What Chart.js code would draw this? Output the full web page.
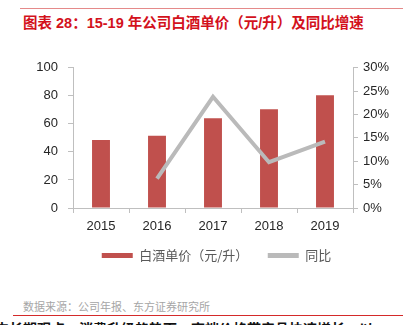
<!DOCTYPE html>
<html>
<head>
<meta charset="utf-8">
<script src="https://cdn.jsdelivr.net/npm/chart.js@4"></script>
<style>
  html, body { margin: 0; padding: 0; background: #fff; }
  body { width: 403px; height: 325px; position: relative; overflow: hidden;
         font-family: "Liberation Sans", "Noto Sans CJK SC", sans-serif; }
  .topline { position: absolute; left: 20px; top: 8px; width: 383px; height: 0; border-top: 1.5px solid #e58a8a; }
  .title { position: absolute; left: 23px; top: 14px; font-size: 14.5px; line-height: 18px; font-weight: bold; color: #d3121c; white-space: nowrap; }
  .source { position: absolute; left: 23px; top: 298px; font-size: 11px; color: #a6a6a6; white-space: nowrap;
            font-family: "Noto Sans CJK SC", sans-serif; }
  .botline { position: absolute; left: 13px; top: 315px; width: 390px; height: 0; border-top: 1.5px solid #d42a2a; }
  .cut { position: absolute; left: -5px; top: 321px; font-size: 14px; line-height: 14px; font-weight: bold; color: #111; white-space: nowrap;
         font-family: "Noto Sans CJK SC", sans-serif; }
  #wrap { position: absolute; left: 0; top: 50px; width: 403px; height: 222px; }
</style>
</head>
<body>
<div class="topline"></div>
<div class="title">图表 28：15-19 年公司白酒单价（元/升）及同比增速</div>
<div id="wrap"><canvas id="chart"></canvas></div>
<div class="source">数据来源：公司年报、东方证券研究所</div>
<div class="botline"></div>
<div class="cut">中长期观点：消费升级趋势下，高端价格带产品快速增长，以</div>

<script>
// years on the category axis
const years = ['2015', '2016', '2017', '2018', '2019'];
// liquor unit price, yuan per litre
const unitPrice = [48.5, 51.6, 64.1, 70.5, 80.4];
// year-over-year change, percent
const yoyGrowth = [null, 6.3, 23.8, 9.8, 14.2];

const axisGrey = '#bfbfbf';
const tickFont = { family: '"Liberation Sans", Arial, sans-serif', size: 13 };

new Chart(document.getElementById('chart').getContext('2d'), {
  data: {
    labels: years,
    datasets: [
      {
        type: 'bar',
        label: '白酒单价（元/升）',
        data: unitPrice,
        backgroundColor: '#c0504d',
        borderWidth: 0,
        barPercentage: 0.32,
        categoryPercentage: 1,
        yAxisID: 'y',
        order: 2
      },
      {
        type: 'line',
        label: '同比',
        data: yoyGrowth,
        borderColor: '#bababa',
        backgroundColor: '#bababa',
        borderWidth: 4,
        pointRadius: 0,
        tension: 0,
        yAxisID: 'y1',
        order: 1
      }
    ]
  },
  options: {
    responsive: true,
    maintainAspectRatio: false,
    animation: false,
    // left padding keeps the legend centred under the plot
    layout: { padding: { top: 16, left: 30, right: 0, bottom: 0 } },
    plugins: {
      tooltip: { enabled: false },
      legend: {
        position: 'bottom',
        labels: {
          boxWidth: 31,
          boxHeight: 5,
          padding: 10,
          color: '#595959',
          font: { family: '"Noto Sans CJK SC", sans-serif', size: 13 },
          // bars first, then the growth line; wider gap after the first item
          sort: (a, b) => a.datasetIndex - b.datasetIndex,
          generateLabels: chart => Chart.defaults.plugins.legend.labels.generateLabels(chart)
            .map(item => item.datasetIndex === 0
              ? { ...item, lineWidth: 0, text: item.text + '\u3000 ' }
              : { ...item, lineWidth: 0, fillStyle: '#bababa' })
        }
      }
    },
    scales: {
      x: {
        grid: { display: true, drawOnChartArea: false, drawTicks: true, tickLength: 5, color: axisGrey, offset: true },
        border: { color: axisGrey },
        ticks: { color: '#262626', font: tickFont, padding: 6, maxRotation: 0 },
        afterFit: s => { s.height = 31; }
      },
      y: {
        position: 'left',
        min: 0, max: 100,
        ticks: { stepSize: 20, color: '#262626', font: tickFont, padding: 10 },
        grid: { display: true, drawOnChartArea: false, drawTicks: true, tickLength: 5, color: axisGrey },
        border: { color: axisGrey },
        afterFit: s => { s.width = 43; }
      },
      y1: {
        position: 'right',
        min: 0, max: 30,
        ticks: { stepSize: 5, color: '#262626', font: tickFont, padding: 5, callback: v => v + '%' },
        grid: { display: true, drawOnChartArea: false, drawTicks: true, tickLength: 5, color: axisGrey },
        border: { color: axisGrey },
        afterFit: s => { s.width = 50; }
      }
    }
  }
});
</script>
</body>
</html>
